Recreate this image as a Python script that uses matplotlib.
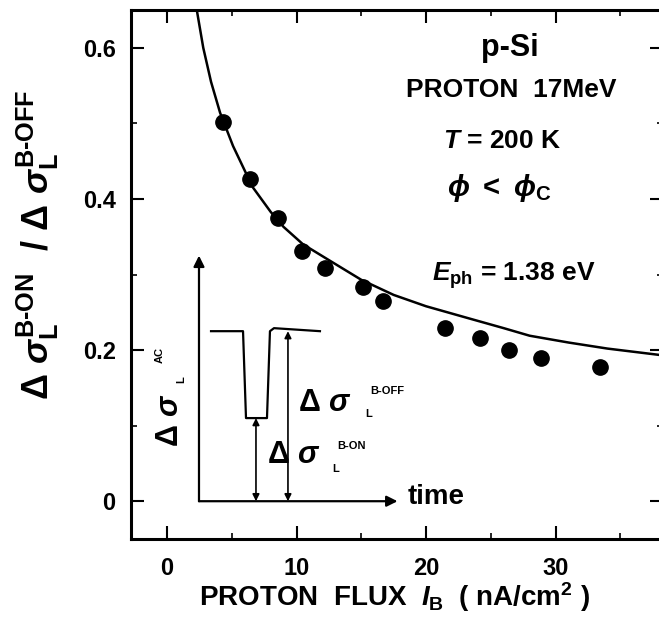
import numpy as np
import matplotlib.pyplot as plt

plt.rcParams['font.family'] = ['Liberation Sans', 'DejaVu Sans']
plt.rcParams['font.weight'] = 'bold'
plt.rcParams['axes.labelweight'] = 'bold'
plt.rcParams['mathtext.fontset'] = 'custom'
plt.rcParams['mathtext.rm'] = 'Liberation Sans:bold'
plt.rcParams['mathtext.it'] = 'Liberation Sans:italic:bold'
plt.rcParams['mathtext.bf'] = 'Liberation Sans:bold'

# measured ratio vs proton flux
flux = [4.3, 6.4, 8.6, 10.4, 12.2, 15.1, 16.7, 21.5, 24.2, 26.4, 28.9, 33.4]
ratio = [0.502, 0.427, 0.375, 0.331, 0.309, 0.284, 0.265, 0.229, 0.216, 0.200, 0.189, 0.178]

# solid curve
fit_flux = [2.3, 2.8, 3.4, 4.1, 5.1, 6.6, 8.0, 9.0, 10.5, 12.6, 15.0, 17.5,
            20.0, 23.3, 26.0, 28.0, 31.0, 34.0, 38.3]
fit_ratio = [0.650, 0.600, 0.555, 0.514, 0.470, 0.416, 0.383, 0.363, 0.340, 0.318,
             0.293, 0.273, 0.258, 0.242, 0.229, 0.219, 0.210, 0.202, 0.193]

# schematic inset: AC photoconductivity trace vs time
trace_t = [3.40, 5.87, 6.10, 7.72, 7.95, 8.26, 11.81]
trace_s = [0.225, 0.225, 0.110, 0.110, 0.225, 0.229, 0.225]

fig = plt.figure(figsize=(6.59, 6.25), dpi=100)
# right spine sits just outside the picture, as in the scan
ax = fig.add_axes([131 / 659, 1 - 539 / 625, 532 / 659, 529 / 625])

ax.plot(fit_flux, fit_ratio, color='black', lw=1.8, solid_joinstyle='round')
ax.plot(flux, ratio, 'o', color='black', ms=11)

# inset axes drawn inside the main plot
ax.annotate('', xy=(2.47, 0.325), xytext=(2.47, 0.0),
            arrowprops=dict(arrowstyle='-|>', color='black', lw=1.6,
                            mutation_scale=16, shrinkA=0, shrinkB=0))
ax.annotate('', xy=(17.8, 0.0), xytext=(2.47, 0.0),
            arrowprops=dict(arrowstyle='-|>', color='black', lw=1.6,
                            mutation_scale=16, shrinkA=0, shrinkB=0))
ax.plot(trace_t, trace_s, color='black', lw=1.6)
for xa, ya in [(6.87, 0.110), (9.34, 0.225)]:
    ax.annotate('', xy=(xa, ya), xytext=(xa, 0.0),
                arrowprops=dict(arrowstyle='<|-|>', color='black', lw=1.2,
                                mutation_scale=10, shrinkA=0, shrinkB=0))

ax.text(18.6, 0.006, 'time', fontsize=20, fontweight='bold', ha='left', va='center')


def fx(px):
    return px / 659


def fy(py):
    return 1 - py / 625


# delta sigma labels in the inset
fig.text(fx(298), fy(403), r'$\Delta\ \sigma$', fontsize=22, ha='left', va='center')
fig.text(fx(365), fy(414), 'L', fontsize=8, ha='left', va='center')
fig.text(fx(370), fy(391), 'B-OFF', fontsize=8, ha='left', va='center')
fig.text(fx(267), fy(455), r'$\Delta\ \sigma$', fontsize=22, ha='left', va='center')
fig.text(fx(332), fy(469), 'L', fontsize=8, ha='left', va='center')
fig.text(fx(337), fy(446), 'B-ON', fontsize=8, ha='left', va='center')
fig.text(fx(170), fy(420), r'$\Delta\ \sigma$', fontsize=22, rotation=90,
         ha='center', va='center')
fig.text(fx(181), fy(380), 'L', fontsize=8, rotation=90, ha='center', va='center')
fig.text(fx(160), fy(355), 'AC', fontsize=8, rotation=90, ha='center', va='center')

# annotations, upper right
ax.text(26.5, 0.600, 'p-Si', fontsize=22, ha='center', va='center')
ax.text(26.6, 0.544, 'PROTON  17MeV', fontsize=19, ha='center', va='center')
ax.text(25.9, 0.477, r'$T$ = 200 K', fontsize=19, ha='center', va='center')
ax.text(25.7, 0.415, r'$\phi\ <\ \phi_{\rm C}$', fontsize=21, ha='center', va='center')
ax.text(26.8, 0.299, r'$E_{\rm ph}$ = 1.38 eV', fontsize=19, ha='center', va='center')

ax.set_xlim(-2.78, 38.3)
ax.set_ylim(-0.05, 0.65)
ax.set_xticks([0, 10, 20, 30])
ax.set_xticklabels(['0', '10', '20', '30'])
ax.set_xticks([5, 15, 25, 35], minor=True)
ax.set_yticks([0, 0.2, 0.4, 0.6])
ax.set_yticklabels(['0', '0.2', '0.4', '0.6'])
ax.set_yticks([0.1, 0.3, 0.5], minor=True)
ax.tick_params(which='both', direction='in', top=True, right=True, labelsize=17)
ax.tick_params(which='major', length=9.5, width=1.5)
ax.tick_params(which='minor', length=4, width=1.2)
ax.tick_params(axis='y', pad=11)
ax.tick_params(axis='x', pad=13)
for s in ax.spines.values():
    s.set_linewidth(2.2)

ax.set_xlabel(r'PROTON  FLUX  $I_{\rm B}$  ( nA/cm$^{2}$ )', fontsize=20,
              fontweight='bold')
ax.xaxis.set_label_coords(0.5 * 528 / 532, -(597 - 539) / 529)
ax.xaxis.label.set_va('center')
ax.set_ylabel(r'$\Delta\ \sigma_{\rm L}^{\text{B-ON}}\ \ /\ \Delta\ \sigma_{\rm L}^{\text{B-OFF}}$',
              fontsize=26)
ax.yaxis.set_label_coords((38 - 131) / 532, (539 - 245) / 529)
ax.yaxis.label.set_va('center')

fig.savefig('out.png', dpi=100)
